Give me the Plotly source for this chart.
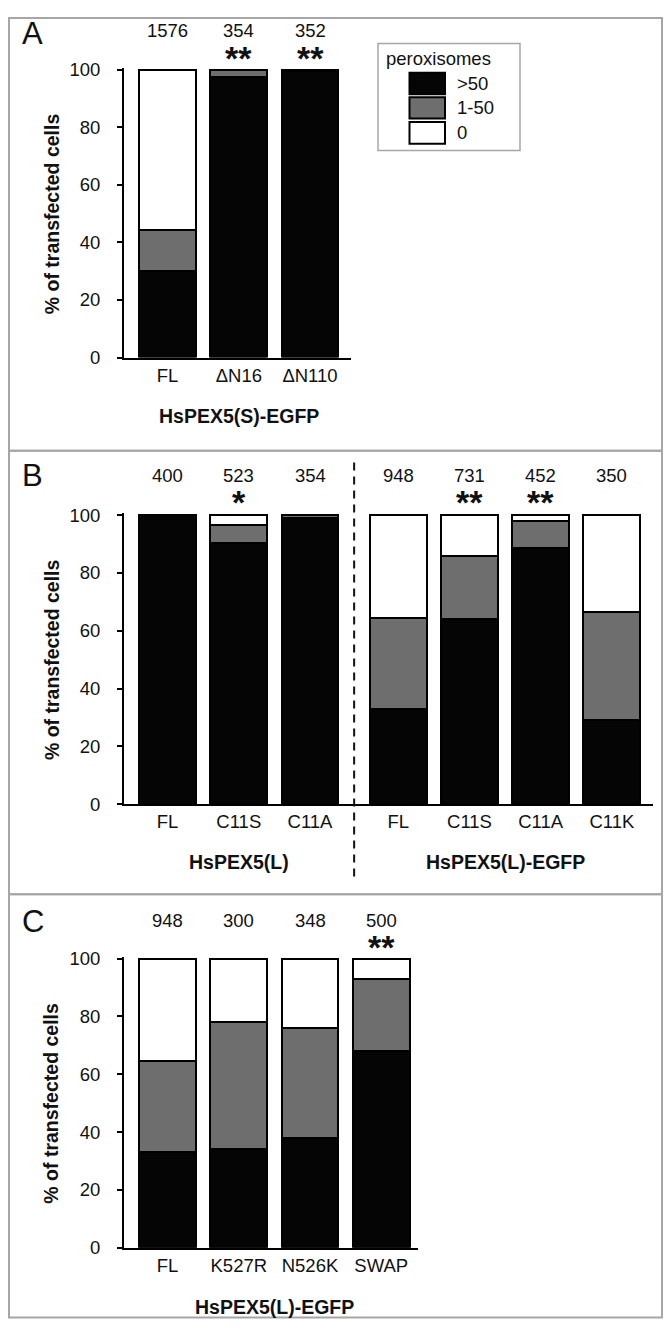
import plotly.graph_objects as go

# ---------------- data ----------------
legend_names = [">50", "1-50", "0"]

a_cats = ["FL", "ΔN16", "ΔN110"]
a_gt50 = [30, 97.5, 99.5]
a_1to50 = [14.5, 2.5, 0.5]
a_zero = [55.5, 0, 0]
a_n = ["1576", "354", "352"]
a_sig = ["", "**", "**"]
a_groups = ["HsPEX5(S)-EGFP"]
a_group_sizes = [3]

b_cats = ["FL", "C11S", "C11A", "FL", "C11S", "C11A", "C11K"]
b_gt50 = [100, 90.5, 99, 33, 64, 88.5, 29]
b_1to50 = [0, 6, 1, 31.5, 22, 9.5, 37.5]
b_zero = [0, 3.5, 0, 35.5, 14, 2, 33.5]
b_n = ["400", "523", "354", "948", "731", "452", "350"]
b_sig = ["", "*", "", "", "**", "**", ""]
b_groups = ["HsPEX5(L)", "HsPEX5(L)-EGFP"]
b_group_sizes = [3, 4]

c_cats = ["FL", "K527R", "N526K", "SWAP"]
c_gt50 = [33, 34, 38, 68]
c_1to50 = [31.5, 44, 38, 25]
c_zero = [35.5, 22, 24, 7]
c_n = ["948", "300", "348", "500"]
c_sig = ["", "", "", "**"]
c_groups = ["HsPEX5(L)-EGFP"]
c_group_sizes = [4]

y_ticks = [0, 20, 40, 60, 80, 100]
y_title = "% of transfected cells"
panel_letters = ["A", "B", "C"]

# ---------------- style ----------------
# page body has an 8px margin; size the figure so the page fits the window
OFF = 8
W, H = 671 - 2 * OFF, 1337 - 2 * OFF
FONT = "Liberation Sans, Arial, sans-serif"
COL_BLACK = "#050505"
COL_GRAY = "#6e6e6e"
COL_WHITE = "#ffffff"
FRAME = "#a6a6a6"
TXT = "#111111"
UNIT = 71.2       # px per category step
GROUP_GAP = 0.24  # extra gap between groups (category units)
LEFT_PX = 124
FIRST_CENTER = 167.6


def px_x(s):
    return (s - OFF) / W


def px_y(s):
    return 1 - (s - OFF) / H


def positions(sizes):
    pos = []
    k = 0
    for g, s in enumerate(sizes):
        for _ in range(s):
            pos.append(k + g * GROUP_GAP)
            k += 1
    return pos


panels = [
    dict(cats=a_cats, gt=a_gt50, mid=a_1to50, zero=a_zero, n=a_n, sig=a_sig,
         groups=a_groups, sizes=a_group_sizes, right=350.5,
         y0=353.5, y100=61.7, top=9, bottom=448, letter_y=24.5,
         n_y=21.7, sig_y=50, glab_y=413),
    dict(cats=b_cats, gt=b_gt50, mid=b_1to50, zero=b_zero, n=b_n, sig=b_sig,
         groups=b_groups, sizes=b_group_sizes, right=653.3,
         y0=806.7, y100=513.3, top=448, bottom=898, letter_y=473,
         n_y=472.7, sig_y=500, glab_y=865),
    dict(cats=c_cats, gt=c_gt50, mid=c_1to50, zero=c_zero, n=c_n, sig=c_sig,
         groups=c_groups, sizes=c_group_sizes, right=417.5,
         y0=1256.7, y100=963.3, top=898, bottom=1327.5, letter_y=926,
         n_y=925, sig_y=952, glab_y=1316.7),
]

fig = go.Figure()
annotations = []
shapes = []
YMAX = 100.6

for i, p in enumerate(panels):
    ax = "" if i == 0 else str(i + 1)
    xref = "x" + ax
    yref = "y" + ax
    pos = positions(p["sizes"])
    for vals, col, name in [(p["gt"], COL_BLACK, legend_names[0]),
                            (p["mid"], COL_GRAY, legend_names[1]),
                            (p["zero"], COL_WHITE, legend_names[2])]:
        fig.add_trace(go.Bar(
            x=pos, y=vals, name=name, width=0.8,
            marker=dict(color=col, line=dict(color="#000000", width=2)),
            xaxis=xref, yaxis=yref, showlegend=False,
            hovertemplate="%{y}<extra>" + name + "</extra>"))

    ppu = (p["y0"] - p["y100"]) / 100.0
    top_px = p["y0"] - YMAX * ppu
    xmin = -(FIRST_CENTER - LEFT_PX) / UNIT
    xmax = xmin + (p["right"] - LEFT_PX) / UNIT

    fig.update_layout(**{
        "xaxis" + ax: dict(
            domain=[px_x(LEFT_PX), px_x(p["right"])], range=[xmin, xmax],
            anchor=yref, tickvals=pos, ticktext=p["cats"], ticks="",
            showline=True, linecolor="#000000", linewidth=2,
            showgrid=False, zeroline=False, fixedrange=True,
            tickfont=dict(family=FONT, size=18.5, color=TXT),
            ticklabelstandoff=0),
        "yaxis" + ax: dict(
            domain=[px_y(p["y0"]), px_y(top_px)], range=[0, YMAX],
            anchor=xref, tickvals=y_ticks, ticks="outside", ticklen=5,
            tickwidth=2, tickcolor="#000000",
            showline=True, linecolor="#000000", linewidth=2,
            showgrid=False, zeroline=False, fixedrange=True,
            tickfont=dict(family=FONT, size=18.5, color=TXT),
            ticklabelstandoff=13),
    })

    # counts and significance marks
    for xi, n, s in zip(pos, p["n"], p["sig"]):
        annotations.append(dict(
            x=xi, xref=xref, y=px_y(p["n_y"]), yref="paper", text=n,
            showarrow=False, xanchor="center", yanchor="middle",
            font=dict(family=FONT, size=18.5, color=TXT)))
        if s:
            annotations.append(dict(
                x=xi, xref=xref, y=px_y(p["sig_y"]), yref="paper",
                text="<b>" + s + "</b>",
                showarrow=False, xanchor="center", yanchor="middle",
                font=dict(family=FONT, size=34, color=TXT)))

    # group labels
    k = 0
    for gname, size in zip(p["groups"], p["sizes"]):
        gpos = pos[k:k + size]
        k += size
        annotations.append(dict(
            x=sum(gpos) / len(gpos), xref=xref, y=px_y(p["glab_y"]),
            yref="paper", text="<b>" + gname + "</b>", showarrow=False,
            xanchor="center", yanchor="middle",
            font=dict(family=FONT, size=19.5, color=TXT)))

    # y axis title
    annotations.append(dict(
        x=px_x(51.5), xref="paper", y=px_y((p["y0"] + p["y100"]) / 2),
        yref="paper", text="<b>" + y_title + "</b>", textangle=-90,
        showarrow=False, xanchor="center", yanchor="middle",
        font=dict(family=FONT, size=19.5, color=TXT)))

    # panel letter
    annotations.append(dict(
        x=px_x(32.5), xref="paper", y=px_y(p["letter_y"]), yref="paper",
        text=panel_letters[i], showarrow=False, xanchor="center",
        yanchor="middle", font=dict(family=FONT, size=31, color=TXT)))

    # panel frame
    shapes.append(dict(type="rect", xref="paper", yref="paper",
                       x0=px_x(9), x1=px_x(662), y0=px_y(p["bottom"]),
                       y1=px_y(p["top"]),
                       line=dict(color=FRAME, width=2), layer="below"))

# dashed separator in panel B
b_pos = positions(b_group_sizes)
sep_x = (b_pos[b_group_sizes[0] - 1] + b_pos[b_group_sizes[0]]) / 2
shapes.append(dict(type="line", xref="x2", yref="paper", x0=sep_x, x1=sep_x,
                   y0=px_y(880), y1=px_y(460),
                   line=dict(color=TXT, width=2, dash="8px,6px")))

# legend (panel A)
shapes.append(dict(type="rect", xref="paper", yref="paper",
                   x0=px_x(378), x1=px_x(520), y0=px_y(143.5), y1=px_y(35),
                   line=dict(color=FRAME, width=1.5), fillcolor="white"))
annotations.append(dict(
    x=px_x(384), xref="paper", y=px_y(50), yref="paper", text="peroxisomes",
    showarrow=False, xanchor="left", yanchor="middle",
    font=dict(family=FONT, size=18.5, color=TXT)))
for (name, col), (t, b) in zip(zip(legend_names, [COL_BLACK, COL_GRAY, COL_WHITE]),
                               [(64.5, 86.5), (89.5, 111), (114.5, 136.5)]):
    shapes.append(dict(type="rect", xref="paper", yref="paper",
                       x0=px_x(409.5), x1=px_x(445), y0=px_y(b), y1=px_y(t),
                       line=dict(color="#000000", width=2), fillcolor=col))
    annotations.append(dict(
        x=px_x(455), xref="paper", y=px_y((t + b) / 2), yref="paper",
        text=name, showarrow=False, xanchor="left", yanchor="middle",
        font=dict(family=FONT, size=18.5, color=TXT)))

fig.update_layout(
    width=W, height=H, margin=dict(l=0, r=0, t=0, b=0),
    paper_bgcolor="white", plot_bgcolor="rgba(0,0,0,0)",
    barmode="stack", showlegend=False,
    annotations=annotations, shapes=shapes,
    font=dict(family=FONT, color=TXT),
)

fig.write_html("out.html")
